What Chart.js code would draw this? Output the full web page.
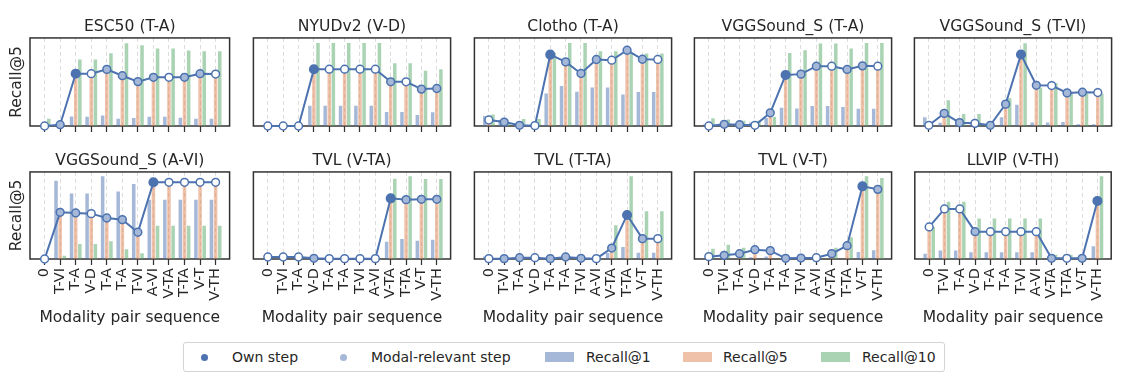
<!DOCTYPE html>
<html><head><meta charset="utf-8">
<script src="https://cdn.jsdelivr.net/npm/chart.js@4/dist/chart.umd.min.js"></script>
<style>
html,body{margin:0;padding:0;background:#fff;}
body{width:1125px;height:378px;position:relative;overflow:hidden;font-family:"DejaVu Sans",sans-serif;}
.cell{position:absolute;}
.legend{position:absolute;left:183px;top:342px;width:762px;height:30px;border:1px solid #d4d4d4;border-radius:3px;box-sizing:border-box;font-size:14px;color:#262626;}
.legend .t{position:absolute;top:0;line-height:28px;white-space:nowrap;}
.legend .dot{position:absolute;top:10.5px;width:7px;height:7px;border-radius:50%;}
.legend .patch{position:absolute;top:9px;width:29px;height:10px;}
</style></head><body>
<div id="charts"></div>
<div class="legend">
  <div class="dot" style="left:16.5px;background:#4c72b0"></div><span class="t" style="left:48px">Own step</span>
  <div class="dot" style="left:155.5px;background:#a5b8d7"></div><span class="t" style="left:187px">Modal-relevant step</span>
  <div class="patch" style="left:361px;background:rgba(76,114,176,0.5)"></div><span class="t" style="left:402px">Recall@1</span>
  <div class="patch" style="left:499px;background:rgba(221,132,82,0.5)"></div><span class="t" style="left:539px">Recall@5</span>
  <div class="patch" style="left:637px;background:rgba(85,168,104,0.5)"></div><span class="t" style="left:678px">Recall@10</span>
</div>
<script>
// ---------- data ----------
const seq = ['0','T-VI','T-A','V-D','T-A','T-A','T-VI','A-VI','V-TA','T-TA','V-T','V-TH'];
const titles = ['ESC50 (T-A)','NYUDv2 (V-D)','Clotho (T-A)','VGGSound_S (T-A)','VGGSound_S (T-VI)',
                'VGGSound_S (A-VI)','TVL (V-TA)','TVL (T-TA)','TVL (V-T)','LLVIP (V-TH)'];

// marker kinds: o = own step, r = modal-relevant step, n = other step
const R1_ESC50  = [0, 0, 10.9, 10.5, 12, 8.3, 9, 10.5, 10.5, 9.4, 8.3, 8.3];
const R5_ESC50  = [0, 1.5, 59.4, 59.4, 64.3, 57.1, 50.4, 55.3, 55.3, 55.3, 59.4, 59];
const R10_ESC50 = [8.3, 0, 75.6, 75.6, 82.7, 94, 91.7, 88, 88, 85.7, 85, 85];
const MK_ESC50  = ['n','r','o','n','r','r','r','r','n','r','r','n'];

const R1_NYU  = [0, 0, 0, 23, 23, 23, 23, 23, 15.8, 15.8, 12.5, 15.5];
const R5_NYU  = [0, 0, 0, 64.5, 64.5, 64.5, 64.5, 64.5, 50.2, 50.2, 41.9, 42.6];
const R10_NYU = [0, 0, 0, 94.3, 94.3, 94.3, 94.3, 94.3, 71.3, 71.3, 62.6, 64.5];
const MK_NYU  = ['n','n','n','o','n','n','n','n','r','n','r','r'];

const R1_CLOTHO  = [11.3, 6.8, 0, 0, 37, 45.3, 38.9, 43.8, 43.8, 35.8, 38.5, 38.5];
const R5_CLOTHO  = [6.8, 4.5, 0.8, 0.4, 81, 72.8, 59.6, 75.5, 74.7, 86, 75.8, 75.5];
const R10_CLOTHO = [13.2, 4, 8, 8, 83, 94.3, 94.3, 84.9, 84.9, 82.3, 82.3, 82.3];
const MK_CLOTHO  = ['n','r','r','n','o','r','r','r','n','r','r','n'];

const R1_VGG_TA  = [2, 2, 2, 4, 9, 20.8, 20, 22.6, 22.6, 21.5, 19.6, 19.6];
const R5_VGG_TA  = [0, 1.9, 1.5, 0.8, 15, 58, 58.9, 67.9, 67.9, 64.2, 68.3, 67.9];
const R10_VGG_TA = [8.7, 7.5, 6, 6, 10.6, 83, 86, 93.6, 93.6, 88, 94.3, 94.3];
const MK_VGG_TA  = ['n','r','r','n','r','o','r','r','n','r','r','n'];

const R1_VGG_TVI  = [9.8, 3.8, 0, 0, 0, 9.8, 24, 4, 4, 4.5, 2, 2];
const R5_VGG_TVI  = [0.8, 14.3, 3.8, 3, 0.8, 24.8, 81.2, 46.2, 45.9, 37.6, 38.3, 38];
const R10_VGG_TVI = [0, 29.3, 13.5, 13.5, 0, 31.6, 94, 43.6, 48.9, 36.8, 36.5, 36.5];
const MK_VGG_TVI  = ['n','r','r','n','r','r','o','r','n','r','r','n'];

const R1_VGG_AVI  = [0, 90, 75.1, 75.1, 95, 77.4, 86.2, 68.2, 68.2, 68.2, 68.2, 68.2];
const R5_VGG_AVI  = [0, 53.6, 52.9, 52.1, 47.1, 45.2, 30.7, 88.1, 88.1, 88.1, 88.1, 88.1];
const R10_VGG_AVI = [0, 3.8, 17.2, 17.2, 20.3, 11.1, 6.5, 38.3, 38.3, 38.3, 38.3, 38.3];
const MK_VGG_AVI  = ['n','r','r','n','r','r','r','o','n','n','n','n'];

const R1_TVL_VTA  = [0, 0, 0, 0, 0, 0, 0, 0, 19.9, 23, 21, 22.2];
const R5_TVL_VTA  = [2.3, 2.3, 2.3, 0.8, 0.4, 0.4, 0.4, 0.4, 69.7, 68.2, 68.6, 68.6];
const R10_TVL_VTA = [0, 0, 0, 0, 0, 0, 0, 0, 92.3, 95, 92, 92];
const MK_TVL_VTA  = ['n','n','n','r','n','n','n','n','o','r','r','r'];

const R1_TVL_TTA  = [3, 0, 0, 0, 0, 0, 0, 0, 6.9, 13.8, 7.3, 7.3];
const R5_TVL_TTA  = [0.4, 0.4, 1.5, 1.5, 0.4, 2.3, 0.8, 0.4, 12.6, 50.6, 23.4, 23.4];
const R10_TVL_TTA = [0, 0, 0, 0, 0, 0, 0, 0, 38.7, 95, 54.8, 54.8];
const MK_TVL_TTA  = ['n','r','r','n','r','r','r','n','r','o','r','n'];

const R1_TVL_VT  = [0, 0, 0, 2, 3, 0, 0, 0, 0, 0, 8, 10];
const R5_TVL_VT  = [2.7, 4.2, 6.1, 10.7, 9.6, 0.8, 1.1, 1.5, 6.1, 15.3, 83.5, 80];
const R10_TVL_VT = [11.9, 16.5, 13, 0, 0, 0, 0, 0, 13, 24.9, 95, 93.1];
const MK_TVL_VT  = ['n','r','r','r','r','r','r','n','r','r','o','r'];

const R1_LLVIP  = [6.1, 9.9, 9.9, 7.7, 7.7, 7.7, 7.7, 7.7, 0, 0, 0, 14.6];
const R5_LLVIP  = [36.8, 57.5, 57.5, 31.4, 31.4, 31.4, 31.4, 31.4, 0.8, 0.8, 0.8, 66.7];
const R10_LLVIP = [36.8, 65.9, 65.9, 46.4, 46.4, 46.4, 46.4, 46.4, 5, 5, 0, 95];
const MK_LLVIP  = ['n','n','n','r','n','n','n','n','r','n','r','o'];

const panels = [
  [R1_ESC50, R5_ESC50, R10_ESC50, MK_ESC50],
  [R1_NYU, R5_NYU, R10_NYU, MK_NYU],
  [R1_CLOTHO, R5_CLOTHO, R10_CLOTHO, MK_CLOTHO],
  [R1_VGG_TA, R5_VGG_TA, R10_VGG_TA, MK_VGG_TA],
  [R1_VGG_TVI, R5_VGG_TVI, R10_VGG_TVI, MK_VGG_TVI],
  [R1_VGG_AVI, R5_VGG_AVI, R10_VGG_AVI, MK_VGG_AVI],
  [R1_TVL_VTA, R5_TVL_VTA, R10_TVL_VTA, MK_TVL_VTA],
  [R1_TVL_TTA, R5_TVL_TTA, R10_TVL_TTA, MK_TVL_TTA],
  [R1_TVL_VT, R5_TVL_VT, R10_TVL_VT, MK_TVL_VT],
  [R1_LLVIP, R5_LLVIP, R10_LLVIP, MK_LLVIP]
];

// ---------- layout / style ----------
const BLUE = '#4c72b0';
const FILL = {o: BLUE, r: '#a5b8d7', n: '#ffffff'};
const RAD  = {o: 4.3, r: 3.9, n: 3.9};
const colLeft = [30, 251, 472, 692, 912];
const frameW = 202;
const rowFrame = [{top: 38, bottom: 126, axisH: 8}, {top: 172, bottom: 259, axisH: 71}];
const TITLE_H = 20;
const TXT = '#262626';

const framePlugin = {
  id: 'frame',
  beforeDatasetsDraw(chart) {
    const {ctx, chartArea: a} = chart;
    ctx.save();
    ctx.strokeStyle = '#333333';
    ctx.lineWidth = 1.5;
    ctx.strokeRect(a.left, a.top, a.right - a.left, a.bottom - a.top);
    ctx.restore();
  }
};

const host = document.getElementById('charts');
panels.forEach((p, k) => {
  const [r1, r5, r10, mk] = p;
  const row = Math.floor(k / 5), col = k % 5;
  const rf = rowFrame[row];
  const L = colLeft[col];
  const padL = col === 0 ? 0 : 3;
  const left = col === 0 ? 0 : L - 3;
  const width = col === 0 ? L + frameW + 3 : frameW + 6;
  const top = rf.top - TITLE_H;
  const height = rf.bottom - top + rf.axisH;
  const div = document.createElement('div');
  div.className = 'cell';
  div.style.left = left + 'px'; div.style.top = top + 'px';
  div.style.width = width + 'px'; div.style.height = height + 'px';
  const cv = document.createElement('canvas');
  cv.width = width; cv.height = height;
  cv.style.width = width + 'px'; cv.style.height = height + 'px';
  div.appendChild(cv);
  host.appendChild(div);

  const pts = arr => arr.map((v, i) => ({x: i, y: v}));
  new Chart(cv, {
    type: 'bar',
    data: {
      datasets: [
        {type: 'line', label: 'Recall@5 line', data: pts(r5), borderColor: BLUE, borderWidth: 2,
         pointRadius: mk.map(c => RAD[c]), pointHoverRadius: mk.map(c => RAD[c]), pointBorderWidth: 1.5,
         pointBorderColor: BLUE, pointBackgroundColor: mk.map(c => FILL[c]), order: 0, clip: false, tension: 0},
        {label: 'Recall@1', data: pts(r1), backgroundColor: 'rgba(76,114,176,0.5)', order: 1,
         categoryPercentage: 0.8, barPercentage: 0.85},
        {label: 'Recall@5', data: pts(r5), backgroundColor: 'rgba(221,132,82,0.5)', order: 1,
         categoryPercentage: 0.8, barPercentage: 0.85},
        {label: 'Recall@10', data: pts(r10), backgroundColor: 'rgba(85,168,104,0.5)', order: 1,
         categoryPercentage: 0.8, barPercentage: 0.85}
      ]
    },
    options: {
      responsive: false, animation: false, devicePixelRatio: 1,
      events: [],
      layout: {padding: {left: padL, right: 3, top: 0, bottom: 0}},
      plugins: {
        legend: {display: false}, tooltip: {enabled: false},
        title: {display: true, text: titles[k], color: TXT, fullSize: false,
                font: {family: 'DejaVu Sans', size: 15.6, weight: 'normal', lineHeight: 1.15}, padding: {top: 0, bottom: 2}}
      },
      scales: {
        x: {
          type: 'linear', min: -0.94, max: 11.9, offset: false,
          grid: {display: true, offset: false, color: '#dcdcdc', lineWidth: 1, drawOnChartArea: true,
                 drawTicks: true, tickLength: 6, tickColor: '#333333', tickWidth: 1.25, tickBorderDash: []},
          border: {display: false, dash: [4, 3]},
          ticks: {display: row === 1, autoSkip: false, minRotation: 90, maxRotation: 90, padding: 3,
                  color: TXT, font: {family: 'DejaVu Sans', size: 14.5},
                  callback: (v, i) => seq[i]},
          afterBuildTicks: a => { a.ticks = seq.map((_, i) => ({value: i})); },
          afterFit: a => { a.height = rf.axisH; a.paddingLeft = 0; a.paddingRight = 0; },
          title: {display: row === 1, text: 'Modality pair sequence', color: TXT,
                  font: {family: 'DejaVu Sans', size: 15.5}, padding: {top: 0, bottom: 3}}
        },
        y: {
          min: 0, max: 100, display: col === 0,
          grid: {display: false}, border: {display: false},
          ticks: {display: false},
          afterFit: a => { a.width = col === 0 ? L : 0; a.paddingTop = 0; a.paddingBottom = 0; },
          title: {display: col === 0, text: 'Recall@5', color: TXT,
                  font: {family: 'DejaVu Sans', size: 15.5}, padding: {top: 7.5, bottom: 0}}
        }
      }
    },
    plugins: [framePlugin]
  });
});
</script>
</body></html>
